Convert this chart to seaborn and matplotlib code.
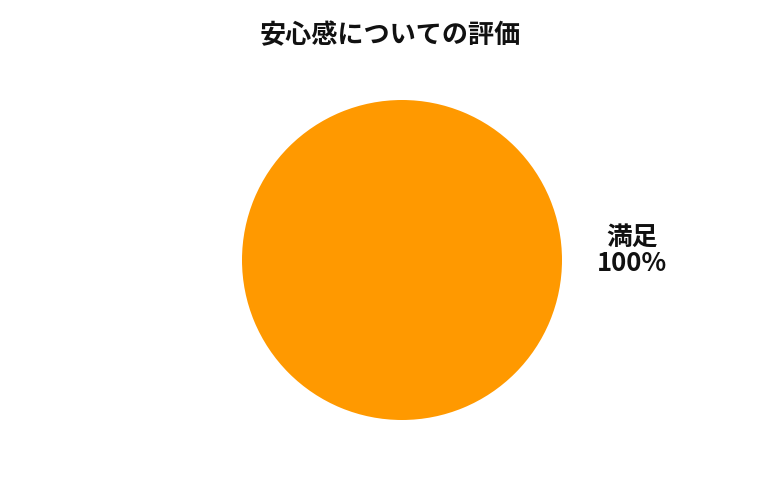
import matplotlib
matplotlib.use("Agg")
import matplotlib.pyplot as plt
import seaborn as sns

# Data
CATEGORIES = ["満足"]
VALUES = [100]
COLORS = ["#FF9900"]
TITLE = "安心感についての評価"

sns.set_theme(style="white")
plt.rcParams['font.family'] = ['Noto Sans CJK JP', 'DejaVu Sans']

fig = plt.figure(figsize=(7.8, 5), dpi=100)
# pie centred at (402, 260) px with radius ~160 px
ax = fig.add_axes([(402 - 160) / 780, (500 - 260 - 160) / 500, 320 / 780, 320 / 500])

total = sum(VALUES)
labels = [f"{c}\n{v / total * 100:.0f}%" for c, v in zip(CATEGORIES, VALUES)]
# single slice: start at 180 and go clockwise so its label sits on the right
wedges, texts = ax.pie(VALUES, labels=labels, colors=COLORS, startangle=180,
                       counterclock=False, labeldistance=1.44,
                       wedgeprops={"linewidth": 0},
                       textprops={"fontsize": 18.5, "fontweight": "bold", "color": "#111111"})
for t in texts:
    t.set_horizontalalignment("center")
    t.set_verticalalignment("center")
    t.set_multialignment("center")
    t.set_linespacing(1.0)
    x, y = t.get_position()
    t.set_position((x, y + 0.06))

ax.set_xlim(-1, 1)
ax.set_ylim(-1, 1)
ax.set_aspect("equal")
ax.axis("off")

fig.text(390 / 780, 1 - 36 / 500, TITLE, ha="center", va="center",
         fontsize=18.8, fontweight="bold", color="#111111")

plt.savefig("out.png", dpi=100)
